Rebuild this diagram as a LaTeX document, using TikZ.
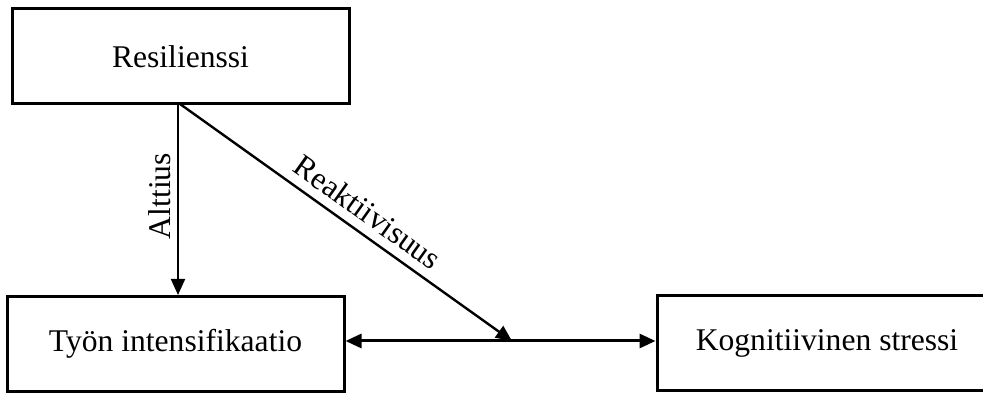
\documentclass[tikz,border=0pt]{standalone}
\usepackage{fontspec}
\setmainfont{Liberation Serif}
\usetikzlibrary{arrows.meta}
\begin{document}
\begin{tikzpicture}[x=0.5pt,y=-0.5pt,
  box/.style={draw, line width=1.5pt, minimum width=168.5pt, minimum height=47.5pt, inner sep=0pt, font=\fontsize{15.8pt}{19pt}\selectfont},
  lbl/.style={inner sep=0pt, font=\fontsize{15.8pt}{19pt}\selectfont},
  arr/.style={line width=1pt, -{Triangle[width=7pt,length=8pt]}},
  darr/.style={line width=1.5pt, {Triangle[width=7pt,length=8pt]}-{Triangle[width=7pt,length=8pt]}}]
\useasboundingbox (0,0) rectangle (983,394);
\clip (0,0) rectangle (983,394);
\node[box] (res) at (180.5,56.5) {Resilienssi};
\node[box] (tyo) at (175.5,344) {Työn intensifikaatio};
\node[box, minimum width=170pt] (kog) at (827,343) {Kognitiivinen stressi};
\coordinate (va) at (178,104);
\coordinate (ds) at (180,104);
\coordinate (mid) at (512,341);
\draw[arr] (va) -- (va |- tyo.north);
\draw[arr, line width=1.2pt] (ds) -- (mid);
\draw[darr] (tyo.east |- mid) -- (kog.west |- mid);
\node[lbl, rotate=90] (alt) at (160,196) {Alttius};
\node[lbl, rotate=-35.5] (rea) at (368,212) {Reaktiivisuus};
\end{tikzpicture}
\end{document}
